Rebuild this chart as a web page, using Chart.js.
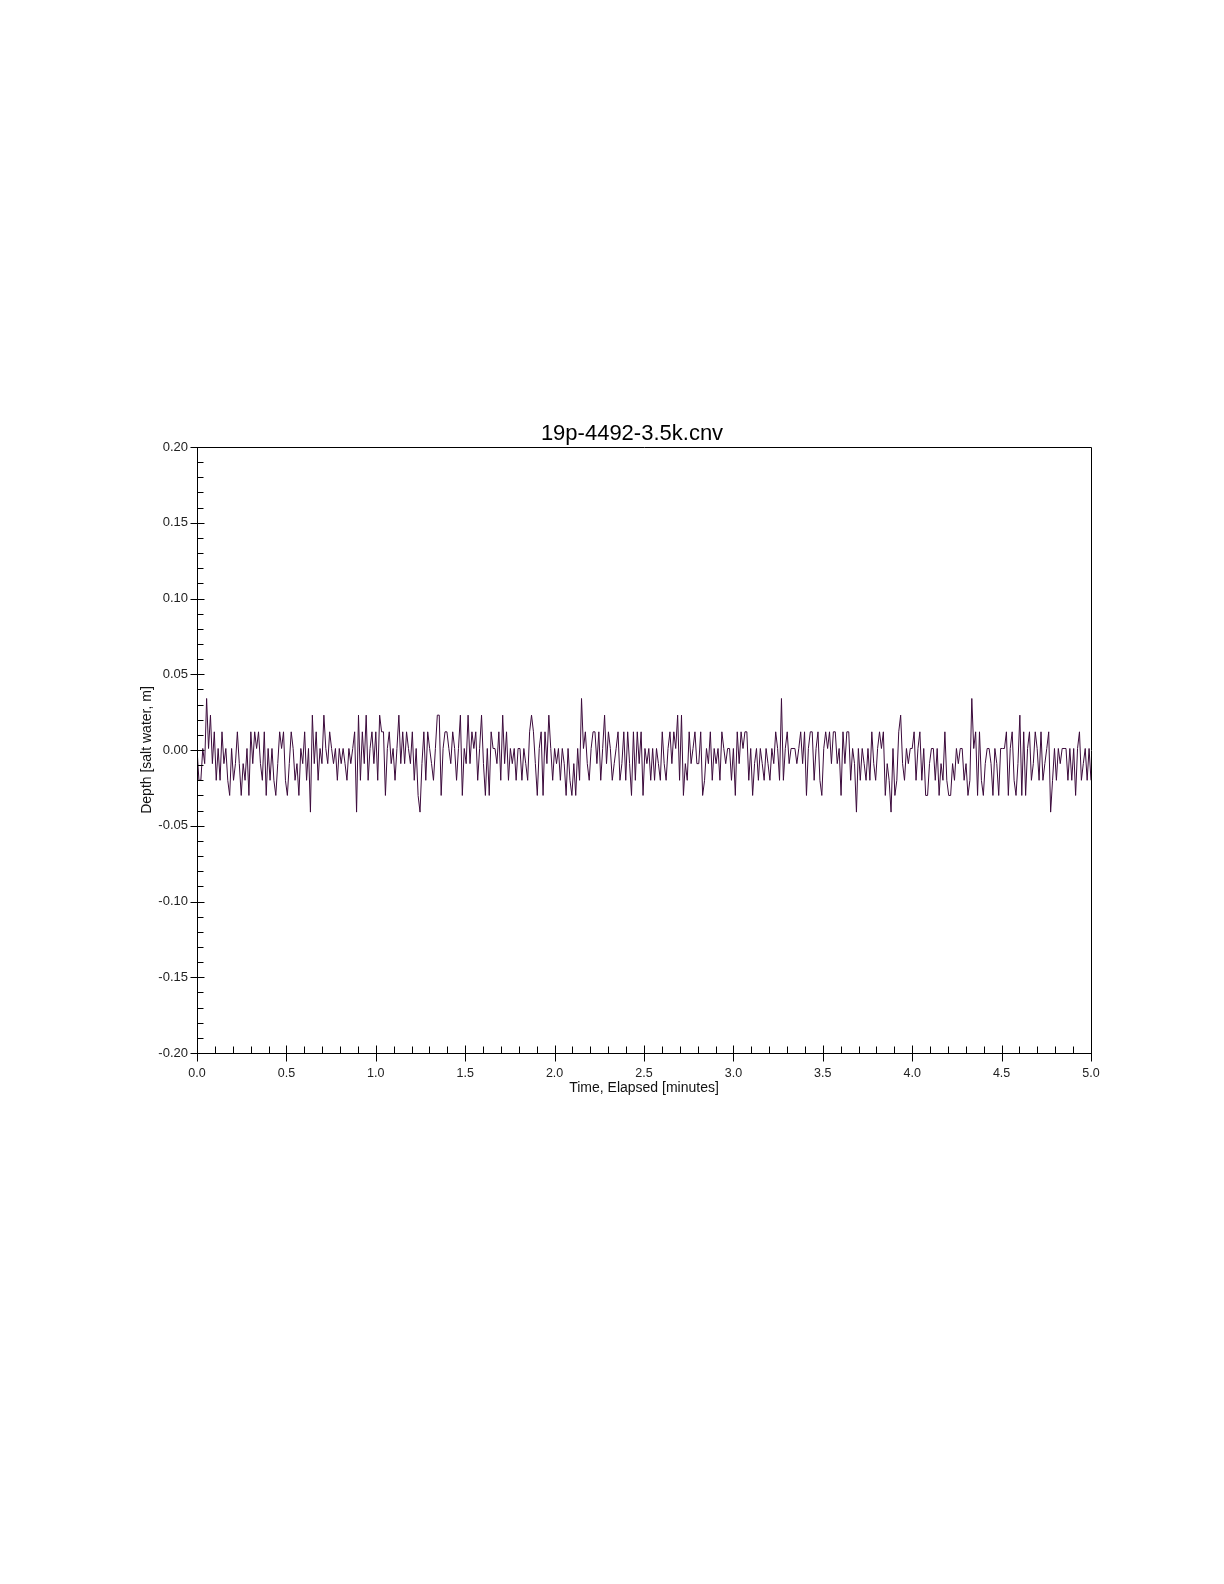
<!DOCTYPE html>
<html>
<head>
<meta charset="utf-8">
<script src="https://cdn.jsdelivr.net/npm/chart.js@4"></script>
<style>
  body { margin: 0; background: #fff; }
  canvas { display: block; }
</style>
</head>
<body>
<canvas id="depth-chart" width="1224" height="1584"></canvas>
<script>
// -------------------------------------------- data (depth in mm in strips of ~0.55 min)
const depthStrip1 = [1,-20,-20,1,-9,34,1,23,-9,12,-20,1,-20,12,-9,1,-20,-30,1,-20,-9,12,-9,-30,-9,-20,1,-30,12,-9,12,1,12,-9,-20,12,-30,1,-20,1,-20,-30,-9,12,1,12,-20,-30];
const depthStrip2 = [-9,12,1,-20,-9,-30,1,-9,12,-20,1,-41,23,-9,12,-20,1,-9,23,1,-9,12,1,-9,1,-20,1,-9,1,-9,-20,1,-9,1,12,-41,23,-20,12,-9,23,-20,1,12,-9,12,-20,23,12,12,-30,1,12,-9,1];
const depthStrip3 = [-20,1,23,-9,12,-9,12,1,-9,12,-20,1,-30,-41,-9,12,-20,12,1,-9,-20,1,23,23,-30,1,12,12,1,-9,12,1,-20,1,23,-30,1,-9,23,-9,12,1,12,-20,1,23,-9,-30,1,-30,12,1,1,-9];
const depthStrip4 = [12,-20,23,-9,12,-20,1,-9,1,-20,1,1,-20,1,-9,-20,12,23,12,-9,-30,1,12,-30,12,-9,23,1,-20,1,-9,1,-20,1,-9,-30,1,-20,-30,-9,-30,1,-20,34,1,12,-9,-20,1,12];
const depthStrip5 = [12,-9,12,-20,1,23,-9,12,1,-20,-9,1,12,-20,-9,12,-20,12,-9,-30,12,-20,12,-9,12,-30,1,-9,1,-20,1,-20,1,-9,-20,12,-9,-20,1,12,-9,12,1,23,-20,23,-30,-9,-20,12,-9,1,12,-9];
const depthStrip6 = [-9,12,-30,-20,1,-9,12,-20,1,-9,1,-20,12,1,-9,1,1,-20,1,-30,12,-9,12,1,12,12,-20,1,-30,-9,1,-20,1,-9,-20,1,-9,-20,1,-9,12,1,-20,34,-20,1,12,-9,1,1,1];
const depthStrip7 = [-9,1,12,-9,12,-30,1,12,12,-20,1,12,-20,-30,1,12,1,12,-9,12,12,-9,1,-30,12,-9,12,12,-20,1,-9,-41,1,-20,1,-9,-20,1,-20,12,-9,-20,1,12,1,12,-30,-9,-20,-41];
const depthStrip8 = [1,-30,-20,12,23,-9,-20,1,-9,1,1,12,-20,1,12,-20,1,-30,-30,-9,1,1,-20,1,-30,-9,-20,12,-20,-30,-30,-9,-20,1,-9,1,1,-20,-9,-30,-20,34,1,12,-30,12,-20,-30,-9,1,1];
const depthStrip9 = [-9,-30,1,-9,-30,1,1,1,12,-30,1,12,-20,-30,-9,23,-30,12,-30,1,12,-20,-9,12,1,-20,12,-20,-9,1,12,-41,-20,1,-20,1,-9,1,1,1,-20,1,-20,1,-30,1,12,-20,-9,1,-20,1,-20];

const depthMm = [].concat(depthStrip1, depthStrip2, depthStrip3, depthStrip4, depthStrip5,
    depthStrip6, depthStrip7, depthStrip8, depthStrip9);

const chartTitle = '19p-4492-3.5k.cnv';
const timeStart = 0;     // minutes
const timeEnd = 5;       // minutes
const depthMin = -0.20;  // m
const depthMax = 0.20;   // m

// samples are evenly spaced over the record
const points = depthMm.map((d, i) => ({
    x: timeStart + i * (timeEnd - timeStart) / (depthMm.length - 1),
    y: d / 1000
}));

function isMajor(v, step) {
    return Math.abs(v / step - Math.round(v / step)) < 1e-6;
}

const fontFamily = '"Liberation Sans", Arial, sans-serif';

// -------------------------------------------- frame, tick marks (inner minors, crossing majors) and title
const frameTicks = {
    id: 'frameTicks',
    afterDraw(chart) {
        const c = chart.ctx;
        const a = chart.chartArea;
        const xs = chart.scales.x;
        const ys = chart.scales.y;
        const L = Math.round(a.left) + 0.5, R = Math.round(a.right) + 0.5;
        const T = Math.round(a.top) + 0.5, B = Math.round(a.bottom) + 0.5;
        c.save();
        c.strokeStyle = '#000';
        c.lineWidth = 1;
        c.beginPath();
        c.rect(L, T, R - L, B - T);

        for (const t of ys.ticks) {
            const py = Math.round(ys.getPixelForValue(t.value)) + 0.5;
            if (isMajor(t.value, 0.05)) {
                c.moveTo(L - 7, py);
                c.lineTo(L + 7, py);
            } else {
                c.moveTo(L, py);
                c.lineTo(L + 6, py);
            }
        }
        for (const t of xs.ticks) {
            const px = Math.round(xs.getPixelForValue(t.value)) + 0.5;
            if (isMajor(t.value, 0.5)) {
                c.moveTo(px, B - 8);
                c.lineTo(px, B + 8);
            } else {
                c.moveTo(px, B - 7);
                c.lineTo(px, B);
            }
        }
        c.stroke();

        // title sits a little left of the plot centre, as in the original export
        c.fillStyle = '#000';
        c.font = '22px ' + fontFamily;
        c.textAlign = 'center';
        c.textBaseline = 'middle';
        c.fillText(chartTitle, (a.left + a.right) / 2 - 12, a.top - 13);
        c.restore();
    }
};

const ctx = document.querySelector('#depth-chart').getContext('2d');
const depthChart = new Chart(ctx, {
    type: 'line',
    data: {
        datasets: [{
            label: 'Depth',
            data: points,
            borderColor: '#3b0a3b',
            borderWidth: 1,
            pointRadius: 0,
            tension: 0,
            fill: false,
        }]
    },
    options: {
        responsive: false,
        animation: false,
        events: [],
        layout: {
            padding: { left: 137, right: 133, top: 447, bottom: 485 }
        },
        plugins: {
            legend: { display: false },
            tooltip: { enabled: false },
            title: { display: false }
        },
        scales: {
            x: {
                type: 'linear',
                min: timeStart,
                max: timeEnd,
                afterFit: (s) => { s.height = 46; },
                grid: { display: false, drawTicks: false },
                border: { display: false },
                ticks: {
                    stepSize: 0.1,
                    autoSkip: false,
                    maxRotation: 0,
                    padding: 13,
                    color: '#222',
                    font: { family: fontFamily, size: 12.5 },
                    callback: (v) => isMajor(v, 0.5) ? v.toFixed(1) : '',
                },
                title: {
                    display: true,
                    text: 'Time, Elapsed [minutes]',
                    color: '#111',
                    font: { family: fontFamily, size: 14 },
                    padding: { top: 0, bottom: 2 },
                }
            },
            y: {
                min: depthMin,
                max: depthMax,
                afterFit: (s) => { s.width = 60; },
                grid: { display: false, drawTicks: false },
                border: { display: false },
                ticks: {
                    stepSize: 0.01,
                    autoSkip: false,
                    padding: 9,
                    color: '#222',
                    font: { family: fontFamily, size: 13 },
                    callback: (v) => {
                        if (!isMajor(v, 0.05)) return '';
                        const r = Math.round(v * 100) / 100;
                        return (r === 0 ? 0 : r).toFixed(2);
                    },
                },
                title: {
                    display: true,
                    text: 'Depth [salt water, m]',
                    color: '#111',
                    font: { family: fontFamily, size: 14 },
                    padding: { top: 2, bottom: 0 },
                }
            }
        }
    },
    plugins: [frameTicks]
});
</script>
</body>
</html>
